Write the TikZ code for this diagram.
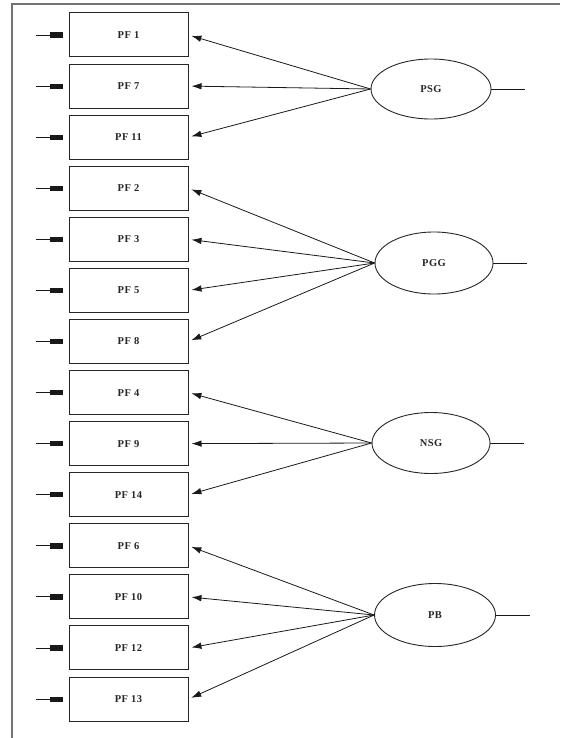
\documentclass[tikz,border=0pt]{standalone}
\usepackage{fontspec}
\newfontfamily\lblfont[LetterSpace=4]{Liberation Serif}
\usetikzlibrary{arrows.meta,shapes.geometric}
\begin{document}
\begin{tikzpicture}[x=1pt,y=-1pt,
  every node/.style={font=\lblfont\bfseries\fontsize{10.5}{12}\selectfont, text=black!85},
  obsbox/.style={draw=black!85, line width=1pt, minimum width=119pt, minimum height=44pt, inner sep=0pt},
  latent/.style={ellipse, draw=black!85, line width=0.9pt, inner sep=0pt},
  load/.style={draw=black!90, line width=0.8pt, -{Latex[length=10pt,width=6.5pt]}, shorten >=3pt},
  err/.style={draw=black!90, line width=0.8pt, -{Rectangle[length=13pt,width=5pt]}, shorten >=6pt},
  resid/.style={draw=black!90, line width=0.8pt}]
\useasboundingbox (0,0) rectangle (560,738);
\draw[black!55, line width=1.2pt] (560,4) -- (12,4) -- (12,738);
% observed boxes
\foreach \n/\i in {PF1/0,PF7/1,PF11/2,PF2/3,PF3/4,PF5/5,PF8/6,PF4/7,PF9/8,PF14/9,PF6/10,PF10/11,PF12/12,PF13/13}{
  \pgfmathsetmacro\yy{35+51.08*\i}
  \node[obsbox] (\n) at (128.5,\yy) {};
  \coordinate (e\n) at (36,\yy);
  \draw[err] (e\n) -- (\n.west);
}
\node at (PF1) {PF 1};
\node at (PF7) {PF 7};
\node at (PF11) {PF 11};
\node at (PF2) {PF 2};
\node at (PF3) {PF 3};
\node at (PF5) {PF 5};
\node at (PF8) {PF 8};
\node at (PF4) {PF 4};
\node at (PF9) {PF 9};
\node at (PF14) {PF 14};
\node at (PF6) {PF 6};
\node at (PF10) {PF 10};
\node at (PF12) {PF 12};
\node at (PF13) {PF 13};
% latent
\node[latent, minimum width=120pt, minimum height=60pt] (PSG) at (431,89) {PSG};
\node[latent, minimum width=118pt, minimum height=62pt] (PGG) at (434,263) {PGG};
\node[latent, minimum width=118pt, minimum height=61pt] (NSG) at (431,443) {NSG};
\node[latent, minimum width=121pt, minimum height=63pt] (PB) at (435,615) {PB};
\coordinate (rPSG) at (525,89);
\coordinate (rPGG) at (527,263);
\coordinate (rNSG) at (524,443);
\coordinate (rPB) at (530,615);
\foreach \l in {PSG,PGG,NSG,PB}{\draw[resid] (\l.east) -- (r\l);}
% loadings
\foreach \t in {PF1,PF7,PF11}{\draw[load] (PSG.west) -- (\t.east);}
\foreach \t in {PF2,PF3,PF5,PF8}{\draw[load] (PGG.west) -- (\t.east);}
\foreach \t in {PF4,PF9,PF14}{\draw[load] (NSG.west) -- (\t.east);}
\foreach \t in {PF6,PF10,PF12,PF13}{\draw[load] (PB.west) -- (\t.east);}
\end{tikzpicture}
\end{document}
